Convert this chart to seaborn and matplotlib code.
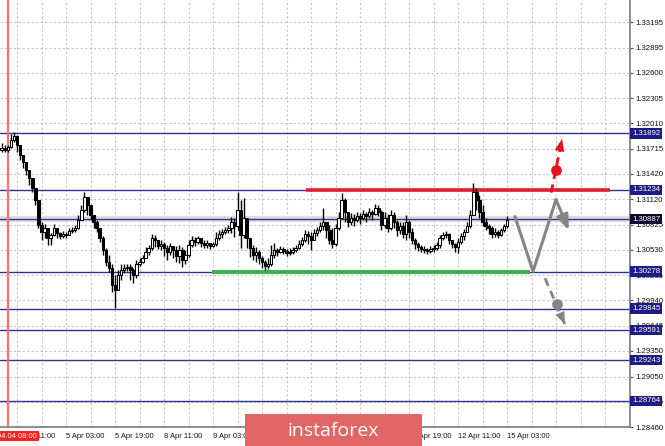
import numpy as np
import matplotlib
matplotlib.use("Agg")
import matplotlib.pyplot as plt
import matplotlib.transforms as mtransforms
from matplotlib.patches import Rectangle
import seaborn as sns

# hourly bars, bar 0 = 4 Apr 11:00
bar_start = -5
first_open = 1.3170
closes = [1.3172, 1.3170, 1.3173, 1.3182, 1.3186, 1.3176, 1.3164, 1.3156, 1.3146, 1.3137,
          1.3125, 1.3111, 1.3082, 1.3074, 1.3079, 1.3067, 1.3071, 1.3079, 1.3073, 1.3069,
          1.3072, 1.3071, 1.3075, 1.3076, 1.3079, 1.3088, 1.3100, 1.3115, 1.3106, 1.3094,
          1.3086, 1.3079, 1.3067, 1.3053, 1.3039, 1.3032, 1.3012, 1.3006, 1.3024, 1.3030,
          1.3032, 1.3033, 1.3030, 1.3024, 1.3036, 1.3039, 1.3044, 1.3051, 1.3055, 1.3067,
          1.3065, 1.3058, 1.3060, 1.3055, 1.3051, 1.3058, 1.3053, 1.3046, 1.3053, 1.3041,
          1.3047, 1.3059, 1.3065, 1.3062, 1.3067, 1.3061, 1.3059, 1.3061, 1.3058, 1.3060,
          1.3067, 1.3072, 1.3074, 1.3076, 1.3079, 1.3086, 1.3081, 1.3100, 1.3071, 1.3090,
          1.3067, 1.3055, 1.3047, 1.3051, 1.3044, 1.3039, 1.3034, 1.3037, 1.3047, 1.3053,
          1.3051, 1.3054, 1.3052, 1.3049, 1.3051, 1.3053, 1.3055, 1.3060, 1.3065, 1.3072,
          1.3069, 1.3065, 1.3073, 1.3076, 1.3081, 1.3086, 1.3076, 1.3065, 1.3060, 1.3079,
          1.3090, 1.3111, 1.3097, 1.3086, 1.3090, 1.3088, 1.3093, 1.3090, 1.3095, 1.3093,
          1.3097, 1.3095, 1.3102, 1.3097, 1.3082, 1.3090, 1.3079, 1.3094, 1.3086, 1.3076,
          1.3081, 1.3072, 1.3086, 1.3074, 1.3065, 1.3060, 1.3057, 1.3054, 1.3053, 1.3052,
          1.3054, 1.3055, 1.3059, 1.3067, 1.3071, 1.3072, 1.3065, 1.3060, 1.3057, 1.3062,
          1.3069, 1.3074, 1.3081, 1.3094, 1.3121, 1.3111, 1.3097, 1.3086, 1.3081, 1.3079,
          1.3072, 1.3074, 1.3071, 1.3076, 1.3081, 1.3088]
highs = [1.3178, 1.3176, 1.3176, 1.3189, 1.3191, 1.3187, 1.3172, 1.3164, 1.3156, 1.3146,
         1.3135, 1.3125, 1.3111, 1.3086, 1.3083, 1.3076, 1.3073, 1.3083, 1.3079, 1.3074,
         1.3075, 1.3074, 1.3079, 1.3080, 1.3082, 1.3094, 1.3106, 1.3121, 1.3114, 1.3106,
         1.3094, 1.3088, 1.3079, 1.3069, 1.3055, 1.3047, 1.3036, 1.3024, 1.3030, 1.3036,
         1.3037, 1.3037, 1.3036, 1.3032, 1.3041, 1.3044, 1.3047, 1.3056, 1.3059, 1.3072,
         1.3071, 1.3065, 1.3065, 1.3062, 1.3059, 1.3061, 1.3058, 1.3058, 1.3059, 1.3057,
         1.3053, 1.3065, 1.3069, 1.3068, 1.3069, 1.3067, 1.3065, 1.3065, 1.3061, 1.3062,
         1.3074, 1.3076, 1.3078, 1.3080, 1.3082, 1.3091, 1.3090, 1.3121, 1.3111, 1.3114,
         1.3088, 1.3067, 1.3059, 1.3056, 1.3053, 1.3046, 1.3041, 1.3044, 1.3059, 1.3061,
         1.3055, 1.3058, 1.3056, 1.3054, 1.3055, 1.3056, 1.3059, 1.3065, 1.3068, 1.3076,
         1.3075, 1.3074, 1.3078, 1.3080, 1.3086, 1.3102, 1.3086, 1.3082, 1.3079, 1.3083,
         1.3097, 1.3120, 1.3114, 1.3097, 1.3096, 1.3095, 1.3097, 1.3096, 1.3100, 1.3097,
         1.3102, 1.3100, 1.3107, 1.3106, 1.3100, 1.3097, 1.3095, 1.3100, 1.3097, 1.3088,
         1.3086, 1.3086, 1.3094, 1.3088, 1.3079, 1.3067, 1.3062, 1.3059, 1.3058, 1.3055,
         1.3058, 1.3059, 1.3062, 1.3071, 1.3074, 1.3075, 1.3073, 1.3065, 1.3061, 1.3067,
         1.3073, 1.3078, 1.3086, 1.3100, 1.3131, 1.3125, 1.3117, 1.3106, 1.3090, 1.3083,
         1.3081, 1.3079, 1.3076, 1.3079, 1.3083, 1.3093]
lows = [1.3167, 1.3167, 1.3168, 1.3172, 1.3179, 1.3167, 1.3158, 1.3149, 1.3141, 1.3129,
        1.3121, 1.3106, 1.3079, 1.3065, 1.3067, 1.3059, 1.3059, 1.3069, 1.3067, 1.3066,
        1.3067, 1.3067, 1.3071, 1.3073, 1.3074, 1.3078, 1.3088, 1.3097, 1.3094, 1.3088,
        1.3079, 1.3074, 1.3062, 1.3047, 1.3034, 1.3027, 1.3004, 1.2985, 1.3006, 1.3018,
        1.3026, 1.3028, 1.3018, 1.3014, 1.3020, 1.3034, 1.3038, 1.3045, 1.3047, 1.3053,
        1.3056, 1.3054, 1.3053, 1.3046, 1.3041, 1.3047, 1.3044, 1.3039, 1.3038, 1.3033,
        1.3036, 1.3045, 1.3056, 1.3058, 1.3060, 1.3056, 1.3055, 1.3055, 1.3054, 1.3057,
        1.3058, 1.3065, 1.3067, 1.3072, 1.3073, 1.3073, 1.3068, 1.3076, 1.3055, 1.3067,
        1.3055, 1.3045, 1.3041, 1.3039, 1.3037, 1.3032, 1.3030, 1.3031, 1.3034, 1.3044,
        1.3046, 1.3050, 1.3048, 1.3046, 1.3047, 1.3048, 1.3051, 1.3054, 1.3058, 1.3062,
        1.3060, 1.3053, 1.3065, 1.3069, 1.3074, 1.3076, 1.3067, 1.3060, 1.3055, 1.3058,
        1.3076, 1.3090, 1.3086, 1.3080, 1.3082, 1.3081, 1.3086, 1.3083, 1.3088, 1.3086,
        1.3090, 1.3088, 1.3094, 1.3093, 1.3076, 1.3079, 1.3074, 1.3076, 1.3079, 1.3069,
        1.3072, 1.3067, 1.3065, 1.3067, 1.3060, 1.3054, 1.3052, 1.3051, 1.3049, 1.3048,
        1.3049, 1.3051, 1.3053, 1.3055, 1.3065, 1.3067, 1.3060, 1.3055, 1.3051, 1.3049,
        1.3060, 1.3065, 1.3074, 1.3079, 1.3097, 1.3100, 1.3090, 1.3081, 1.3076, 1.3072,
        1.3067, 1.3068, 1.3067, 1.3069, 1.3074, 1.3079]

levels = [1.31892, 1.31234, 1.30887, 1.30278, 1.29845, 1.29591, 1.29243, 1.28764]
current_level = 1.30887
price_ticks = [1.33195, 1.32895, 1.32600, 1.32305, 1.32010, 1.31715, 1.31420, 1.31120,
               1.30825, 1.30530, 1.30235, 1.29940, 1.29645, 1.29350, 1.29050, 1.28755, 1.28460]
time_labels = ['4 Apr 11:00', '5 Apr 03:00', '5 Apr 19:00', '8 Apr 11:00', '9 Apr 03:00',
               '9 Apr 19:00', '10 Apr 11:00', '11 Apr 03:00', '11 Apr 19:00', '12 Apr 11:00',
               '15 Apr 03:00']
label_step = 16
marker_bar = -3  # 04.04 08:00

# resistance / support segments (bar range, price)
resist_bars, resist_price = (94.4, 193.6), 1.31234
support_bars, support_price = (63.7, 167.5), 1.30278

# forecast scenario
path_bars = [162.6, 168.5, 176.0, 180.2]
path_prices = [1.3092, 1.3028, 1.3112, 1.3076]
up_bars = [174.4, 178.0]
up_prices = [1.3120, 1.3183]
up_dot = (176.0, 1.3147)
down_bars = [172.4, 178.9]
down_prices = [1.3020, 1.2966]
down_dot = (176.2, 1.2990)

sns.set_style("white")
plt.rcParams['font.family'] = ['Liberation Sans', 'DejaVu Sans']

W, H = 665, 446
fig = plt.figure(figsize=(W / 100, H / 100), dpi=100)
ax = fig.add_axes([0, 19 / H, 630 / W, 427 / H])
px_per_bar = 49 / 16
x0 = -17 / px_per_bar
ax.set_xlim(x0, x0 + 630 / px_per_bar)
ax.set_ylim(1.28460, 1.28460 + 427 / 8553)

# grid
grid_kw = dict(color='#c4c4c4', lw=0.8, ls=(0, (2, 2)), zorder=0)
for t in price_ticks:
    ax.axhline(t, **grid_kw)
for b in range(0, 201, 8):
    ax.axvline(b, **grid_kw)

# levels
ax.axhline(current_level, color='#dedede', lw=4.5, zorder=1)
for lv in levels:
    ax.axhline(lv, color='#33338f', lw=1.0, zorder=2)
ax.axvline(marker_bar, color='#ff7070', lw=1.6, zorder=2)

ax.hlines(resist_price, *resist_bars, color='#e3202c', lw=2.6, zorder=3)
ax.hlines(support_price, *support_bars, color='#35b24a', lw=2.8, zorder=3)

# candles
c = np.array(closes)
o = np.array([first_open] + closes[:-1])
hi = np.maximum(np.array(highs), np.maximum(o, c))
lo = np.minimum(np.array(lows), np.minimum(o, c))
idx = np.arange(bar_start, bar_start + len(c))
up = c >= o
ax.vlines(idx, lo, hi, color='black', lw=1.0, zorder=4)
body_lo = np.minimum(o, c)
body_h = np.maximum(np.abs(c - o), 0.00005)
ax.bar(idx, body_h, bottom=body_lo, width=0.8,
       color=np.where(up, 'white', 'black'), edgecolor='black', lw=0.75, zorder=5)

# forecast path
sns.lineplot(x=path_bars[:3], y=path_prices[:3], sort=False, color='#858585', lw=2.2, ax=ax, zorder=6)
ax.annotate('', xy=(path_bars[3], path_prices[3]), xytext=(path_bars[2], path_prices[2]),
            arrowprops=dict(arrowstyle='-|>,head_length=0.9,head_width=0.35', color='#858585', lw=2.2,
                            shrinkA=0, shrinkB=0), zorder=6)

sns.lineplot(x=up_bars, y=up_prices, sort=False, color='#e8101c', lw=2.0, ax=ax, zorder=6,
             linestyle=(0, (3, 2)))
ax.annotate('', xy=(up_bars[1], up_prices[1]), xytext=(up_bars[1] - 0.6, up_prices[1] - 0.001),
            arrowprops=dict(arrowstyle='-|>,head_length=0.9,head_width=0.35', color='#e8101c', lw=0,
                            shrinkA=0, shrinkB=0), zorder=6)
ax.scatter(*up_dot, s=45, color='#e8101c', zorder=7)

sns.lineplot(x=down_bars, y=down_prices, sort=False, color='#858585', lw=2.0, ax=ax, zorder=6,
             linestyle=(0, (3, 2)))
ax.annotate('', xy=(down_bars[1], down_prices[1]), xytext=(down_bars[1] - 0.6, down_prices[1] + 0.0005),
            arrowprops=dict(arrowstyle='-|>,head_length=0.9,head_width=0.35', color='#858585', lw=0,
                            shrinkA=0, shrinkB=0), zorder=6)
ax.scatter(*down_dot, s=45, color='#858585', zorder=7)

# axes styling
for s in ['left', 'top']:
    ax.spines[s].set_visible(False)
for s in ['right', 'bottom']:
    ax.spines[s].set_color('#7a7a7a')
    ax.spines[s].set_linewidth(1.2)
ax.yaxis.tick_right()
ax.set_yticks(price_ticks)
ax.set_yticklabels([f'{t:.5f}' for t in price_ticks])
ax.tick_params(axis='y', labelsize=5.6, length=2.5, pad=1, color='#555555', labelcolor='#111111')
ax.set_xticks(range(0, label_step * len(time_labels), label_step))
ax.set_xticklabels(time_labels)
ax.tick_params(axis='x', labelsize=5.4, length=3, pad=1.5, color='#555555', labelcolor='#111111')
for lab in ax.get_xticklabels():
    lab.set_ha('left')
ax.set_xlabel('')
ax.set_ylabel('')

blend = mtransforms.blended_transform_factory(ax.transAxes, ax.transData)
for lv in levels:
    fc = '#0c0c2c' if lv == current_level else '#1c1c82'
    ax.text(1.003, lv, f'{lv:.5f}', transform=blend, va='center', ha='left', fontsize=5.6,
            color='white', clip_on=False, zorder=10,
            bbox=dict(boxstyle='square,pad=0.2', fc=fc, ec='none'))

# time marker label
fig.text(37 / W, 1 - 436 / H, '04.04 08:00', ha='right', va='center', fontsize=5.4, color='white',
         bbox=dict(boxstyle='square,pad=0.25', fc='#ff2020', ec='none'), zorder=10)

# watermark
fig.patches.append(Rectangle((245 / W, 0), 177 / W, 32 / H, transform=fig.transFigure,
                             fc='#e26666', ec='none', zorder=20))
fig.text(333 / W, 1 - 431 / H, 'instaforex', ha='center', va='center', fontsize=14,
         color='white', family=['Open Sans', 'DejaVu Sans'], zorder=21)

fig.savefig('out.png', dpi=100)
